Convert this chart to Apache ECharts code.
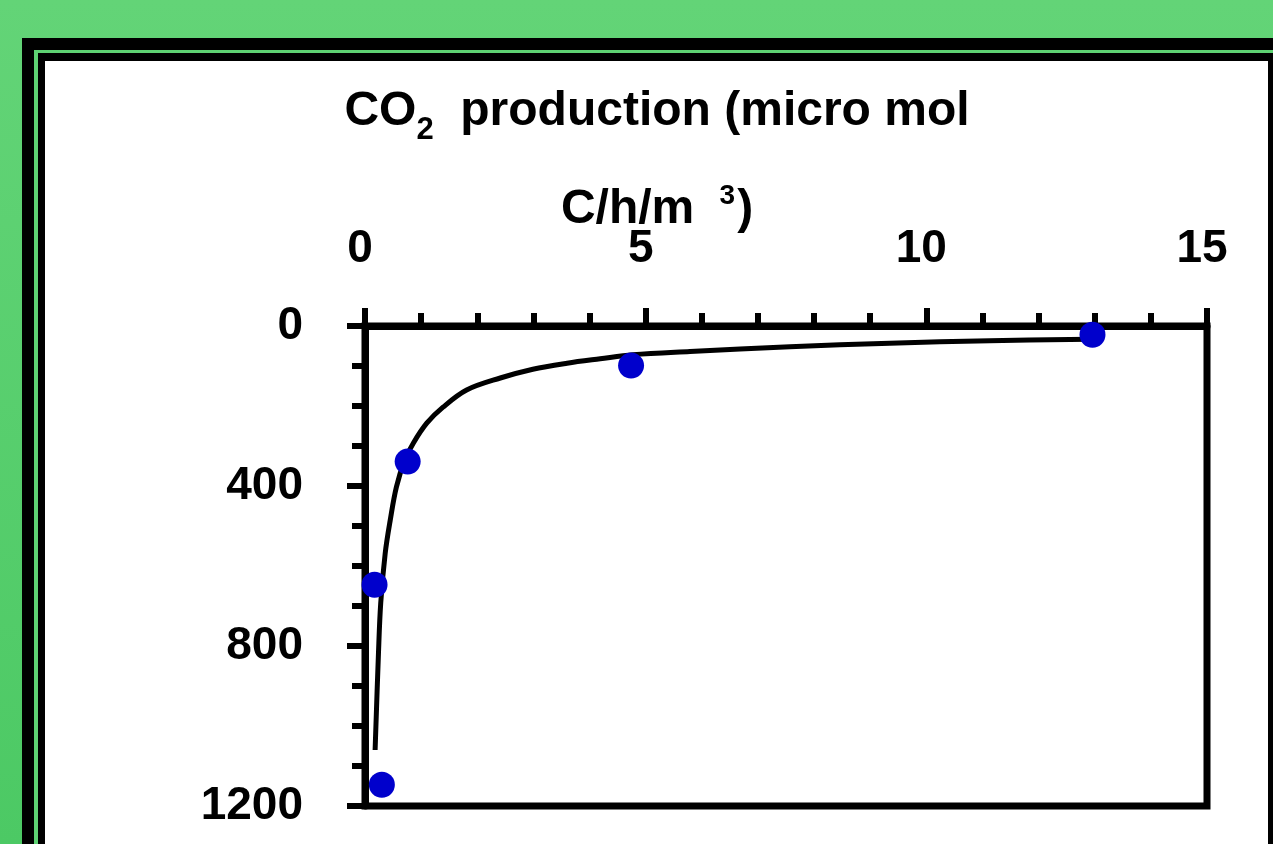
<!DOCTYPE html>
<html>
<head>
<meta charset="utf-8">
<script src="https://cdn.jsdelivr.net/npm/echarts@6/dist/echarts.min.js"></script>
<style>
  html, body { margin: 0; padding: 0; width: 1273px; height: 844px; overflow: hidden; }
  body { background: linear-gradient(#63d477, #4cc964); position: relative; }
  .f1 { position: absolute; left: 22px; top: 38px; right: -10px; bottom: -10px; background: #000; }
  .f2 { position: absolute; left: 34px; top: 50px; right: -10px; bottom: -10px; background: #5ed273; }
  .f3 { position: absolute; left: 38px; top: 53px; right: -10px; bottom: -10px; background: #000; }
  .f4 { position: absolute; left: 45px; top: 61px; width: 1223px; bottom: -10px; background: #fff; }
  #chart { position: absolute; left: 0; top: 0; width: 1273px; height: 844px; }
</style>
</head>
<body>
<div class="f1"></div><div class="f2"></div><div class="f3"></div><div class="f4"></div>
<div id="chart"></div>
<script>
// Observed points: x = CO2 production (micro mol C/h/m3), y = value on inverted axis (0 at top)
const obsX = [0.17, 0.30, 0.76, 4.74, 12.96];
const obsY = [647, 1147, 339, 99, 22];
// Fitted curve
const fitX = [0.18, 0.24, 0.28, 0.36, 0.45, 0.56, 0.71, 0.86, 1.10, 1.39, 1.81, 2.41, 2.99, 3.60, 4.19, 4.77, 5.79, 7.57, 9.35, 11.13, 12.92];
const fitY = [1060, 818, 693, 568, 485, 402, 335, 293, 243, 203, 160, 130, 108, 93, 82, 72, 64, 52, 43, 37, 33];
// Axis ranges / ticks
const xTickValues = [0, 5, 10, 15];
const yTickValues = [0, 400, 800, 1200];

const FONT = '"Liberation Sans", Arial, sans-serif';
const chart = echarts.init(document.getElementById('chart'), null, { renderer: 'canvas' });

const pair = (xs, ys) => xs.map((x, i) => [x, ys[i]]);

chart.setOption({
  backgroundColor: 'transparent',
  animation: false,
  grid: {
    left: 365, top: 326, right: 66, bottom: 38,
    show: true, borderColor: '#000', borderWidth: 7, backgroundColor: 'transparent'
  },
  xAxis: {
    type: 'value', position: 'top',
    min: xTickValues[0], max: xTickValues[xTickValues.length - 1], interval: 5,
    axisLine: { show: true, onZero: false, lineStyle: { color: '#000', width: 7 } },
    axisTick: { show: true, inside: false, length: 18, lineStyle: { color: '#000', width: 6 } },
    minorTick: { show: true, splitNumber: 5, length: 13, lineStyle: { color: '#000', width: 6 } },
    splitLine: { show: false },
    axisLabel: {
      margin: 54, color: '#000', fontSize: 46, fontWeight: 'bold', fontFamily: FONT,
      padding: [0, 10, 0, 0], formatter: (v) => String(v)
    }
  },
  yAxis: {
    type: 'value', inverse: true,
    min: yTickValues[0], max: yTickValues[yTickValues.length - 1], interval: 400,
    axisLine: { show: true, onZero: false, lineStyle: { color: '#000', width: 7 } },
    axisTick: { show: true, inside: false, length: 18, lineStyle: { color: '#000', width: 6 } },
    minorTick: { show: true, splitNumber: 4, length: 13, lineStyle: { color: '#000', width: 6 } },
    splitLine: { show: false },
    axisLabel: {
      margin: 62, color: '#000', fontSize: 46, fontWeight: 'bold', fontFamily: FONT,
      formatter: (v) => String(v)
    }
  },
  graphic: [
    {
      type: 'text', x: 657, y: 112, z: 100,
      style: {
        text: '{a|CO}{sub|2}{a|  production (micro mol}',
        align: 'center', verticalAlign: 'middle',
        rich: {
          a: { fontSize: 48, fontWeight: 'bold', fontFamily: FONT, fill: '#000', color: '#000' },
          sub: { fontSize: 31, fontWeight: 'bold', fontFamily: FONT, fill: '#000', color: '#000', padding: [36, 0, 0, 0] }
        }
      }
    },
    {
      type: 'text', x: 657, y: 210, z: 100,
      style: {
        text: '{a|C/h/m }{sup|3}{a|)}',
        align: 'center', verticalAlign: 'middle',
        rich: {
          a: { fontSize: 48, fontWeight: 'bold', fontFamily: FONT, fill: '#000', color: '#000' },
          sup: { fontSize: 28, fontWeight: 'bold', fontFamily: FONT, fill: '#000', color: '#000', padding: [0, 2, 28, 12] }
        }
      }
    }
  ],
  series: [
    {
      type: 'line', data: pair(fitX, fitY), smooth: 0.35,
      showSymbol: false, symbol: 'none',
      lineStyle: { color: '#000', width: 5, cap: 'butt' }, z: 3
    },
    {
      type: 'scatter', data: pair(obsX, obsY), symbol: 'circle', symbolSize: 26,
      itemStyle: { color: '#0000cc', opacity: 1 }, z: 4
    }
  ]
});
</script>
</body>
</html>
